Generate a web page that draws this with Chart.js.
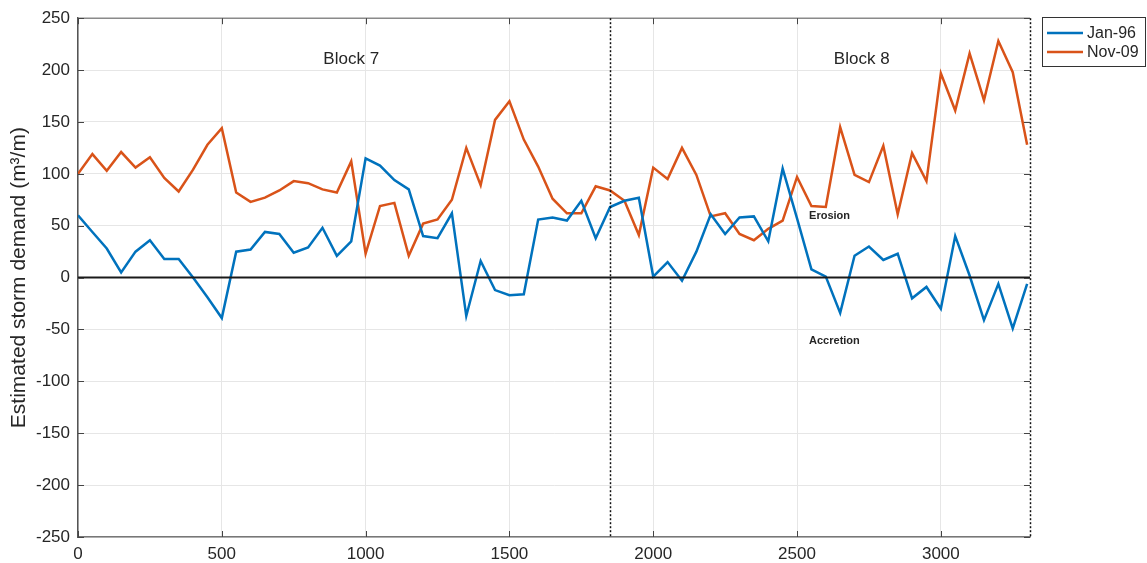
<!DOCTYPE html>
<html>
<head>
<meta charset="utf-8">
<script src="https://cdn.jsdelivr.net/npm/chart.js@4/dist/chart.umd.min.js"></script>
<style>
  html, body { margin: 0; padding: 0; background: #fff; }
  canvas { display: block; }
</style>
</head>
<body>
<canvas id="c" width="1147" height="563"></canvas>
<script>
// Alongshore distance (m) of each profile
const distance = [
  0, 50, 100, 150, 200, 250, 300, 350, 400, 450,
  500, 550, 600, 650, 700, 750, 800, 850, 900, 950,
  1000, 1050, 1100, 1150, 1200, 1250, 1300, 1350, 1400, 1450,
  1500, 1550, 1600, 1650, 1700, 1750, 1800, 1850, 1900, 1950,
  2000, 2050, 2100, 2150, 2200, 2250, 2300, 2350, 2400, 2450,
  2500, 2550, 2600, 2650, 2700, 2750, 2800, 2850, 2900, 2950,
  3000, 3050, 3100, 3150, 3200, 3250, 3300
];

// Estimated storm demand (m3/m), January 1996 event
const jan96 = [
  60, 44, 28, 5, 25, 36, 18, 18, 0, -19,
  -39, 25, 27, 44, 42, 24, 29, 48, 21, 35,
  115, 108, 94, 85, 40, 38, 62, -37, 16, -12,
  -17, -16, 56, 58, 55, 74, 38, 68, 74, 77,
  1, 15, -3, 25, 61, 42, 58, 59, 35, 105,
  57, 8, 1, -34, 21, 30, 17, 23, -20, -9,
  -30, 40, 2, -41, -6, -49, -6
];

// Estimated storm demand (m3/m), November 2009 event
const nov09 = [
  100, 119, 103, 121, 106, 116, 96, 83, 104, 128,
  144, 82, 73, 77, 84, 93, 91, 85, 82, 112,
  23, 69, 72, 21, 52, 56, 75, 125, 89, 152,
  170, 133, 107, 76, 62, 62, 88, 84, 74, 41,
  106, 95, 125, 99, 59, 62, 42, 36, 47, 55,
  97, 69, 68, 145, 99, 92, 127, 61, 120, 93,
  197, 161, 216, 171, 228, 198, 128
];

const seriesNames = ['Jan-96', 'Nov-09'];
const xTicks = [0, 500, 1000, 1500, 2000, 2500, 3000];
const yTicks = [-250, -200, -150, -100, -50, 0, 50, 100, 150, 200, 250];
const blockBoundary = 1850;
const xEnd = 3310;

const annotations = [
  { text: 'Block 7', x: 950, y: 210, size: 17, bold: false },
  { text: 'Block 8', x: 2725, y: 210, size: 17, bold: false },
  { text: 'Erosion', x: 2613, y: 59, size: 11, bold: true },
  { text: 'Accretion', x: 2630, y: -61, size: 11, bold: true }
];

const BLUE = '#0072BD';
const ORANGE = '#D95319';
const FONT = '"Liberation Sans", Arial, Helvetica, sans-serif';
const TEXT = '#262626';

const toPoints = ys => distance.map((x, i) => ({ x, y: ys[i] }));

const overlay = {
  id: 'overlay',
  afterDatasetsDraw(chart) {
    const { ctx, chartArea: a, scales: { x, y } } = chart;
    ctx.save();

    // zero line
    ctx.strokeStyle = '#1a1a1a';
    ctx.lineWidth = 2;
    ctx.beginPath();
    ctx.moveTo(a.left, y.getPixelForValue(0));
    ctx.lineTo(a.right, y.getPixelForValue(0));
    ctx.stroke();

    // top frame
    ctx.strokeStyle = '#8a8a8a';
    ctx.lineWidth = 1.5;
    ctx.beginPath();
    ctx.moveTo(a.left, a.top);
    ctx.lineTo(a.right, a.top);
    ctx.stroke();

    // dotted block boundary and right frame
    ctx.strokeStyle = '#111';
    ctx.lineWidth = 1.5;
    ctx.setLineDash([2, 2]);
    [blockBoundary, xEnd].forEach(v => {
      const px = Math.round(x.getPixelForValue(v)) + 0.5;
      ctx.beginPath();
      ctx.moveTo(px, a.top);
      ctx.lineTo(px, a.bottom);
      ctx.stroke();
    });
    ctx.setLineDash([]);

    // inward tick marks on all four sides
    ctx.strokeStyle = '#444';
    ctx.lineWidth = 1;
    const tl = 6;
    xTicks.forEach(v => {
      const px = Math.round(x.getPixelForValue(v)) + 0.5;
      ctx.beginPath();
      ctx.moveTo(px, a.bottom); ctx.lineTo(px, a.bottom - tl);
      ctx.moveTo(px, a.top); ctx.lineTo(px, a.top + tl);
      ctx.stroke();
    });
    yTicks.forEach(v => {
      const py = Math.round(y.getPixelForValue(v)) + 0.5;
      ctx.beginPath();
      ctx.moveTo(a.left, py); ctx.lineTo(a.left + tl, py);
      ctx.moveTo(a.right, py); ctx.lineTo(a.right - tl, py);
      ctx.stroke();
    });

    // text annotations
    ctx.fillStyle = TEXT;
    ctx.textAlign = 'center';
    ctx.textBaseline = 'middle';
    annotations.forEach(t => {
      ctx.font = (t.bold ? 'bold ' : '') + t.size + 'px ' + FONT;
      ctx.fillText(t.text, x.getPixelForValue(t.x), y.getPixelForValue(t.y));
    });

    // legend box outside the axes
    const lx = 1042, ly = 17, lw = 103, lh = 49;
    ctx.fillStyle = '#fff';
    ctx.fillRect(lx, ly, lw, lh);
    ctx.strokeStyle = '#333';
    ctx.lineWidth = 1;
    ctx.strokeRect(lx + 0.5, ly + 0.5, lw, lh);
    ctx.font = '16px ' + FONT;
    ctx.textAlign = 'left';
    ctx.textBaseline = 'middle';
    chart.data.datasets.forEach((ds, i) => {
      const yy = ly + 16 + i * 19;
      ctx.strokeStyle = ds.borderColor;
      ctx.lineWidth = 2.5;
      ctx.beginPath();
      ctx.moveTo(lx + 5, yy);
      ctx.lineTo(lx + 41, yy);
      ctx.stroke();
      ctx.fillStyle = TEXT;
      ctx.fillText(ds.label, lx + 45, yy + 1);
    });

    ctx.restore();
  }
};

new Chart(document.getElementById('c'), {
  type: 'line',
  data: {
    datasets: [
      { label: seriesNames[0], data: toPoints(jan96), borderColor: BLUE, backgroundColor: BLUE,
        borderWidth: 2.5, pointRadius: 0, tension: 0, fill: false },
      { label: seriesNames[1], data: toPoints(nov09), borderColor: ORANGE, backgroundColor: ORANGE,
        borderWidth: 2.5, pointRadius: 0, tension: 0, fill: false }
    ]
  },
  options: {
    responsive: false,
    maintainAspectRatio: false,
    animation: false,
    devicePixelRatio: 1,
    layout: { padding: { top: 18, right: 117, left: 0, bottom: 0 } },
    plugins: { legend: { display: false }, tooltip: { enabled: false } },
    scales: {
      x: {
        type: 'linear',
        min: 0,
        max: xEnd,
        afterBuildTicks: s => { s.ticks = xTicks.map(v => ({ value: v })); },
        afterFit: s => { s.height = 26; },
        grid: { color: '#e6e6e6', lineWidth: 1, drawTicks: false },
        border: { display: true, color: '#777', width: 1.5 },
        ticks: { padding: 7, color: TEXT, font: { family: FONT, size: 17 }, maxRotation: 0,
                 autoSkip: false, callback: v => String(v) }
      },
      y: {
        type: 'linear',
        min: -250,
        max: 250,
        afterBuildTicks: s => { s.ticks = yTicks.map(v => ({ value: v })); },
        afterFit: s => { s.width = 78; },
        grid: { color: '#e6e6e6', lineWidth: 1, drawTicks: false },
        border: { display: true, color: '#555', width: 1.5 },
        ticks: { padding: 8, color: TEXT, font: { family: FONT, size: 17 },
                 autoSkip: false, callback: v => String(v) },
        title: {
          display: true,
          text: 'Estimated storm demand (m³/m)',
          color: TEXT,
          font: { family: FONT, size: 21 },
          padding: { top: 7, bottom: 0 }
        }
      }
    }
  },
  plugins: [overlay]
});
</script>
</body>
</html>
